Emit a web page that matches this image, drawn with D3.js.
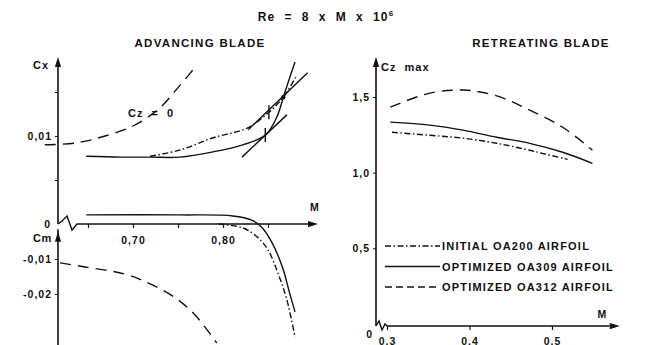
<!DOCTYPE html>
<html><head><meta charset="utf-8">
<script src="https://cdn.jsdelivr.net/npm/d3@7"></script>
<style>
html,body{margin:0;padding:0;background:#fff;}
svg text{font-family:"Liberation Sans",Arial,sans-serif;fill:#111;white-space:pre;}
</style></head>
<body>
<svg id="c" width="649" height="345"></svg>
<script>
// ---------- DATA ----------
const seriesNames = ["INITIAL OA200 AIRFOIL","OPTIMIZED OA309 AIRFOIL","OPTIMIZED OA312 AIRFOIL"];
// Advancing blade: Cx vs M
const cxM_OA309 = [0.648,0.686,0.719,0.752,0.789,0.822,0.847,0.860,0.867,0.874,0.880];
const cx_OA309  = [0.0077,0.0076,0.0076,0.0076,0.0082,0.0090,0.0101,0.0122,0.0144,0.0166,0.0184];
const cxM_OA200 = [0.719,0.752,0.789,0.827,0.851,0.867,0.882];
const cx_OA200  = [0.0077,0.0084,0.0098,0.0109,0.0127,0.0144,0.0169];
const cxM_OA312 = [0.602,0.636,0.669,0.702,0.730,0.750,0.769];
const cx_OA312  = [0.0090,0.0092,0.0100,0.01125,0.0132,0.0155,0.0178];
// tangent construction lines on the Cx curves
const tangentM  = [[0.821,0.871],[0.828,0.894]];
const tangentCx = [[0.0076,0.0124],[0.0107,0.0172]];
const markerM  = [0.847,0.851];
const markerCx = [0.0101,0.0127];
const dotM = [0.867], dotCx = [0.0144];
// Advancing blade: Cm vs M
const cmM_OA309 = [0.648,0.752,0.811,0.832,0.843,0.854,0.866,0.874,0.880];
const cm_OA309  = [0.0026,0.0026,0.0023,0.0011,-0.0009,-0.0051,-0.0123,-0.0197,-0.0251];
const cmM_OA200 = [0.795,0.822,0.838,0.850,0.861,0.871,0.880];
const cm_OA200  = [0,-0.0011,-0.0037,-0.0074,-0.014,-0.0217,-0.0323];
const cmM_OA312 = [0.619,0.647,0.691,0.719,0.747,0.769,0.793];
const cm_OA312  = [-0.0111,-0.0123,-0.0143,-0.0171,-0.0211,-0.026,-0.034];
// Retreating blade: Cz max vs M
const czM_OA200 = [0.306,0.352,0.392,0.433,0.473,0.49,0.519];
const cz_OA200  = [1.267,1.247,1.228,1.194,1.148,1.125,1.088];
const czM_OA309 = [0.304,0.352,0.392,0.433,0.473,0.513,0.549];
const cz_OA309  = [1.334,1.314,1.281,1.234,1.194,1.135,1.062];
const czM_OA312 = [0.304,0.352,0.392,0.413,0.441,0.473,0.513,0.549];
const cz_OA312  = [1.433,1.526,1.546,1.533,1.493,1.413,1.30,1.148];
// tick labels
const mTicksL = [0.65,0.70,0.75,0.80,0.85];
const mLabelsL = {"0.7":"0,70","0.8":"0,80"};
const cxTicks = [0.005,0.01,0.015];
const cmTicks = [-0.01,-0.02];
const czTicks = [0.5,1.0,1.5];
const mTicksR = [0.3,0.4,0.5];

// ---------- SCALES ----------
const svg = d3.select("#c");
const xL = d3.scaleLinear().domain([0.7,0.8]).range([133,223]);
const yCx = d3.scaleLinear().domain([0,0.01]).range([224,136]);
const yCm = d3.scaleLinear().domain([0,-0.02]).range([224,294]);
const xR = d3.scaleLinear().domain([0.3,0.5]).range([387,552]);
const yCz = d3.scaleLinear().domain([0,1.5]).range([324,97]);

const styles = {
  dashdot:"6,2.5,1.5,2.5",
  solid:null,
  dashed:"11,7"
};
const SW = 1.4;

function drawLine(xs, ys, xsc, ysc, dash, curve){
  const pts = xs.map((m,i)=>[m,ys[i]]);
  const ln = d3.line().x(d=>xsc(d[0])).y(d=>ysc(d[1])).curve(curve||d3.curveCatmullRom.alpha(0.5));
  svg.append("path").attr("d",ln(pts)).attr("fill","none").attr("stroke","#111")
    .attr("stroke-width",SW).attr("stroke-dasharray",dash);
}
function arrow(x,y,dir){
  const s=5, l=10;
  let p;
  if(dir==="up") p=[[x,y],[x-s/1.6,y+l],[x+s/1.6,y+l]];
  else p=[[x,y],[x-l,y-s/1.6],[x-l,y+s/1.6]];
  svg.append("path").attr("d","M"+p.map(q=>q.join(",")).join("L")+"Z").attr("fill","#111");
}
const fmt = v => String(v).replace(".",",");

// ---------- TITLES ----------
const t = svg.append("text").attr("x",326).attr("y",21).attr("text-anchor","middle")
  .attr("font-size",12).attr("font-weight","bold").attr("letter-spacing",1.2);
t.append("tspan").text("Re  =  8  x  M  x  10");
t.append("tspan").attr("dy",-5).attr("font-size",8).text("6");
svg.append("text").attr("x",200).attr("y",47).attr("text-anchor","middle")
  .attr("font-size",11.5).attr("font-weight","bold").attr("letter-spacing",1.3).text("ADVANCING BLADE");
svg.append("text").attr("x",541).attr("y",47).attr("text-anchor","middle")
  .attr("font-size",11.5).attr("font-weight","bold").attr("letter-spacing",1.3).text("RETREATING BLADE");

// ---------- LEFT PANEL AXES ----------
const axL = 58;
// Cx axis
svg.append("line").attr("x1",axL).attr("x2",axL).attr("y1",yCx(0)).attr("y2",62).attr("stroke","#111").attr("stroke-width",1.6);
arrow(axL,57,"up");
// Cm axis
svg.append("line").attr("x1",axL).attr("x2",axL).attr("y1",yCm(-0.0015)).attr("y2",345).attr("stroke","#111").attr("stroke-width",1.6);
arrow(axL,yCm(-0.0022),"up");
// M axis with break
const y0 = yCx(0);
svg.append("path").attr("d",`M${axL},${y0}L${axL+4},${y0-3}L${axL+9},${y0-8}L${axL+14},${y0+6}L${axL+19},${y0}L${xL(0.9)-2},${y0}`)
  .attr("fill","none").attr("stroke","#111").attr("stroke-width",1.4);
arrow(xL(0.9)+5,y0,"right");
svg.append("text").attr("x",xL(0.9)-3).attr("y",y0-13).attr("font-size",10.5).attr("font-weight","bold").text("M");
// M ticks
const gM = svg.append("g").attr("transform",`translate(0,${y0})`)
  .call(d3.axisBottom(xL).tickValues(mTicksL).tickSize(4).tickFormat(d=>mLabelsL[String(+d.toFixed(2))]||""));
gM.select(".domain").remove();
gM.selectAll("line").attr("stroke","#111").attr("stroke-width",1.2);
gM.selectAll("text").attr("font-size",10.5).attr("font-weight","bold").attr("letter-spacing",1).attr("dy","1.25em").attr("fill","#111");
// Cx ticks
const gCx = svg.append("g").attr("transform",`translate(${axL},0)`)
  .call(d3.axisLeft(yCx).tickValues(cxTicks).tickSize(3).tickFormat(d=>d===0.01?"0,01":""));
gCx.select(".domain").remove();
gCx.selectAll("line").attr("stroke","#111");
gCx.selectAll("text").attr("font-size",10.5).attr("font-weight","bold").attr("letter-spacing",1).attr("fill","#111");
// Cm ticks
const gCm = svg.append("g").attr("transform",`translate(${axL},0)`)
  .call(d3.axisLeft(yCm).tickValues(cmTicks).tickSize(3).tickFormat(d=>"-"+fmt(Math.abs(d))));
gCm.select(".domain").remove();
gCm.selectAll("line").attr("stroke","#111");
gCm.selectAll("text").attr("font-size",10.5).attr("font-weight","bold").attr("letter-spacing",1).attr("fill","#111");
svg.append("text").attr("x",axL-8).attr("y",y0+4).attr("text-anchor","end").attr("font-size",10.5).attr("font-weight","bold").text("0");
svg.append("text").attr("x",33).attr("y",69).attr("font-size",11).attr("font-weight","bold").attr("letter-spacing",1).text("Cx");
svg.append("text").attr("x",33).attr("y",242).attr("font-size",11).attr("font-weight","bold").attr("letter-spacing",0.5).text("Cm");

// Cx curves
drawLine(cxM_OA312,cx_OA312,xL,yCx,styles.dashed);
drawLine(cxM_OA309,cx_OA309,xL,yCx,styles.solid);
drawLine(cxM_OA200,cx_OA200,xL,yCx,styles.dashdot);
tangentM.forEach((ms,i)=>drawLine(ms,tangentCx[i],xL,yCx,null,d3.curveLinear));
markerM.forEach((m,i)=>{
  svg.append("line").attr("x1",xL(m)).attr("x2",xL(m)).attr("y1",yCx(markerCx[i])-7).attr("y2",yCx(markerCx[i])+7)
    .attr("stroke","#111").attr("stroke-width",1.4);
});
svg.selectAll(".dot").data(dotM).enter().append("circle").attr("cx",d=>xL(d)).attr("cy",(d,i)=>yCx(dotCx[i])).attr("r",2.2).attr("fill","#111");
svg.append("text").attr("x",128).attr("y",117).attr("font-size",11).attr("font-weight","bold").attr("letter-spacing",1).text("Cz  =  0");

// Cm curves
drawLine(cmM_OA312,cm_OA312,xL,yCm,styles.dashed);
drawLine(cmM_OA309,cm_OA309,xL,yCm,styles.solid);
drawLine(cmM_OA200,cm_OA200,xL,yCm,styles.dashdot);

// ---------- RIGHT PANEL AXES ----------
const axR = 376;
const yR0 = yCz(0)+2;
svg.append("line").attr("x1",axR).attr("x2",axR).attr("y1",yR0).attr("y2",62).attr("stroke","#111").attr("stroke-width",1.6);
arrow(axR,57,"up");
svg.append("path").attr("d",`M${axR},${yR0}L${axR+3},${yR0-5}L${axR+6},${yR0+4}L${axR+9},${yR0-2}L${xR(0.3)},${yR0}L${xR(0.57)},${yR0}`)
  .attr("fill","none").attr("stroke","#111").attr("stroke-width",1.4);
arrow(xR(0.57)+10,yR0,"right");
svg.append("text").attr("x",xR(0.555)).attr("y",yR0-8).attr("font-size",10.5).attr("font-weight","bold").text("M");
const gMR = svg.append("g").attr("transform",`translate(0,${yR0})`)
  .call(d3.axisBottom(xR).tickValues(mTicksR).tickSize(4).tickFormat(d3.format(".1f")));
gMR.select(".domain").remove();
gMR.selectAll("line").attr("stroke","#111").attr("stroke-width",1.2);
gMR.selectAll("text").attr("font-size",10.5).attr("font-weight","bold").attr("letter-spacing",1).attr("dy","1.1em").attr("fill","#111");
const gCz = svg.append("g").attr("transform",`translate(${axR},0)`)
  .call(d3.axisLeft(yCz).tickValues(czTicks).tickSize(3).tickFormat(d=>d3.format(".1f")(d).replace(".",",")));
gCz.select(".domain").remove();
gCz.selectAll("line").attr("stroke","#111");
gCz.selectAll("text").attr("font-size",10.5).attr("font-weight","bold").attr("letter-spacing",1).attr("fill","#111");
svg.append("text").attr("x",axR-4).attr("y",yR0+12).attr("text-anchor","end").attr("font-size",10.5).attr("font-weight","bold").text("0");
svg.append("text").attr("x",381).attr("y",71).attr("font-size",11).attr("font-weight","bold").attr("letter-spacing",1).text("Cz  max");

drawLine(czM_OA312,cz_OA312,xR,yCz,styles.dashed);
drawLine(czM_OA309,cz_OA309,xR,yCz,styles.solid);
drawLine(czM_OA200,cz_OA200,xR,yCz,styles.dashdot);

// ---------- LEGEND ----------
const legDash = [styles.dashdot, styles.solid, "7,4"];
seriesNames.forEach((name,i)=>{
  const ly = 246 + i*20.5;
  svg.append("line").attr("x1",385).attr("x2",440).attr("y1",ly).attr("y2",ly)
    .attr("stroke","#111").attr("stroke-width",SW).attr("stroke-dasharray",legDash[i]);
  svg.append("text").attr("x",442).attr("y",ly+4).attr("font-size",11).attr("font-weight","bold")
    .attr("letter-spacing",1.2).text(name);
});
</script>
</body></html>
